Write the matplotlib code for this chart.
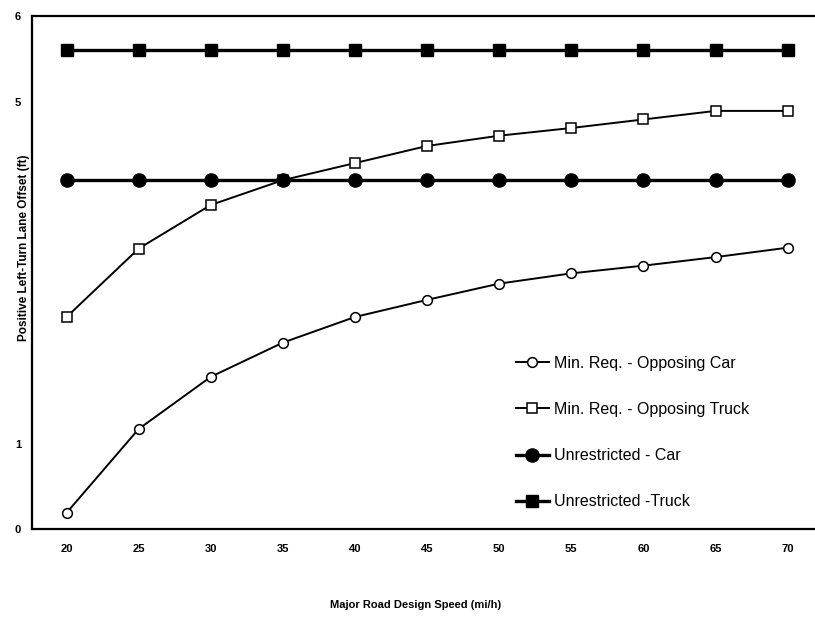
import matplotlib
matplotlib.use("Agg")
import matplotlib.pyplot as plt

speeds = [20, 25, 30, 35, 40, 45, 50, 55, 60, 65, 70]
min_car = [0.19, 1.17, 1.78, 2.18, 2.48, 2.68, 2.87, 2.99, 3.08, 3.18, 3.29]
min_truck = [2.48, 3.28, 3.79, 4.08, 4.28, 4.48, 4.60, 4.69, 4.79, 4.89, 4.89]
unres_car = [4.08] * len(speeds)
unres_truck = [5.60] * len(speeds)
y_ticks = [0, 1, 5, 6]

plt.rcParams['font.family'] = ['Liberation Sans', 'DejaVu Sans']

fig = plt.figure(figsize=(8.15, 6.19), dpi=100)
ax = fig.add_axes([32 / 815, (619 - 529) / 619, 1 - 32 / 815, (529 - 16) / 619])

ax.plot(speeds, min_car, color='black', lw=1.4, marker='o', ms=7,
        mfc='white', mec='black', mew=1.1, label='Min. Req. - Opposing Car')
ax.plot(speeds, min_truck, color='black', lw=1.4, marker='s', ms=7.5,
        mfc='white', mec='black', mew=1.1, label='Min. Req. - Opposing Truck')
ax.plot(speeds, unres_car, color='black', lw=2.4, marker='o', ms=9.5,
        mfc='black', mec='black', label='Unrestricted - Car')
ax.plot(speeds, unres_truck, color='black', lw=2.4, marker='s', ms=8,
        mfc='black', mec='black', label='Unrestricted -Truck')

ax.set_xlim(17.6, 71.9)
ax.set_ylim(0, 6)
ax.set_xticks(speeds)
ax.set_yticks(y_ticks)
ax.tick_params(axis='x', length=0, pad=11, labelsize=8)
ax.tick_params(axis='y', length=0, pad=8, labelsize=8)
for lab in ax.get_xticklabels() + ax.get_yticklabels():
    lab.set_fontweight('bold')

ax.spines['right'].set_visible(False)
for s in ['left', 'top', 'bottom']:
    ax.spines[s].set_linewidth(1.6)

leg = ax.legend(loc='upper left', bbox_to_anchor=(0.61, 0.35), frameon=False,
                fontsize=11.5, handlelength=2.05, handletextpad=0.3,
                labelspacing=1.95, borderaxespad=0)

fig.text(0.51, 0.015, 'Major Road Design Speed (mi/h)', ha='center',
         va='bottom', fontsize=8, fontweight='bold')
fig.text(0.022, 0.6, 'Positive Left-Turn Lane Offset (ft)', ha='left',
         va='center', rotation=90, fontsize=8.5, fontweight='bold')

fig.savefig('out.png', dpi=100)
